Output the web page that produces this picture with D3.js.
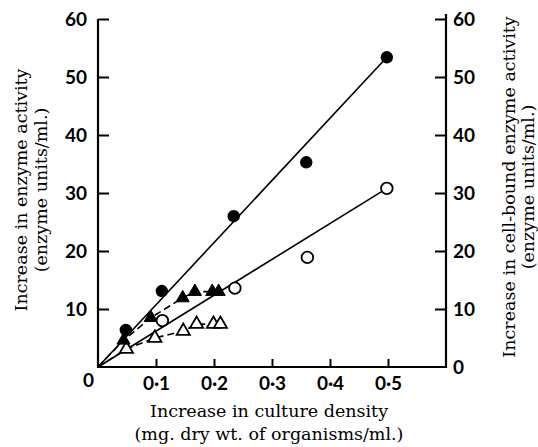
<!DOCTYPE html>
<html><head><meta charset="utf-8">
<script src="https://cdn.jsdelivr.net/npm/d3@7"></script>
<style>
html,body{margin:0;padding:0;background:#fff;}
svg{display:block;}
.tick text{font-family:Lato,"Open Sans",sans-serif;font-weight:700;font-size:19px;fill:#000;}
.title{font-family:"DejaVu Serif",serif;font-size:17.5px;fill:#000;}
</style></head>
<body>
<svg id="chart" width="538" height="447"></svg>
<script>
// data
const filledCircles = [[0.048, 6.4], [0.11, 13.1], [0.234, 26.0], [0.359, 35.3], [0.498, 53.4]];
const openCircles = [[0.111, 8.0], [0.236, 13.6], [0.361, 18.9], [0.498, 30.8]];
const filledTriangles = [[0.044, 4.6], [0.091, 8.5], [0.146, 11.9], [0.167, 13.0], [0.197, 13.0], [0.208, 13.0]];
const openTriangles = [[0.049, 3.1], [0.098, 5.0], [0.147, 6.2], [0.170, 7.4], [0.199, 7.4], [0.211, 7.4]];
const filledCircleLine = [[0, 0], [0.498, 53.4]];
const openCircleLine = [[0, 0], [0.498, 30.8]];
const xTicks = [0.1, 0.2, 0.3, 0.4, 0.5];
const yTicks = [10, 20, 30, 40, 50, 60];
const yTicksRight = [0, 10, 20, 30, 40, 50, 60];
const xTitle = ["Increase in culture density", "(mg. dry wt. of organisms/ml.)"];
const yTitle = ["Increase in enzyme activity", "(enzyme units/ml.)"];
const yTitleRight = ["Increase in cell-bound enzyme activity", "(enzyme units/ml.)"];

const svg = d3.select("#chart");
const x = d3.scaleLinear().domain([0, 0.6]).range([98, 446]);
const y = d3.scaleLinear().domain([0, 60]).range([367, 19]);
const fmt = d => d3.format(".1f")(d).replace(".", "\u00B7");

// axes
const gx = svg.append("g").attr("transform", `translate(0,${y(0)})`)
  .call(d3.axisBottom(x).tickValues(xTicks).tickSize(-8).tickSizeOuter(0).tickPadding(8).tickFormat(fmt));
const gl = svg.append("g").attr("transform", `translate(${x(0)},0)`)
  .call(d3.axisLeft(y).tickValues(yTicks).tickSize(-11).tickSizeOuter(0).tickPadding(11).tickFormat(d3.format("d")));
const gr = svg.append("g").attr("transform", `translate(${x(0.6)},0)`)
  .call(d3.axisRight(y).tickValues(yTicksRight).tickSize(-11).tickSizeOuter(0).tickPadding(7).tickFormat(d3.format("d")));
[gx, gl, gr].forEach(g => {
  g.selectAll(".domain").remove();
  g.selectAll(".tick line").attr("stroke", "#000").attr("stroke-width", 2);
});
gx.selectAll(".tick text").attr("dy", "0.8em");
gr.selectAll(".tick").filter(d => d === 0).select("line").remove();

// axis lines
svg.append("path").attr("fill", "none").attr("stroke", "#000").attr("stroke-width", 2.2)
  .attr("d", `M${x(0)},${y(60)}V${y(0)}H${x(0.6)}V${y(60) - 5}`);

// origin label
svg.append("text").attr("x", 88.5).attr("y", y(0) + 13).attr("dy", "0.35em")
  .attr("text-anchor", "middle")
  .style("font-family", "Lato,'Open Sans',sans-serif").style("font-weight", 700).style("font-size", "19px")
  .text("0");

// lines
const line = d3.line().x(d => x(d[0])).y(d => y(d[1]));
svg.append("path").attr("d", line(filledCircleLine)).attr("fill", "none").attr("stroke", "#000").attr("stroke-width", 1.6);
svg.append("path").attr("d", line(openCircleLine)).attr("fill", "none").attr("stroke", "#000").attr("stroke-width", 1.6);
svg.append("path").attr("d", line([[0, 0], ...filledTriangles])).attr("fill", "none").attr("stroke", "#000").attr("stroke-width", 1.6).attr("stroke-dasharray", "7,4");
svg.append("path").attr("d", line([[0, 0], ...openTriangles])).attr("fill", "none").attr("stroke", "#000").attr("stroke-width", 1.6).attr("stroke-dasharray", "7,4");

// markers
const tri = d3.symbol().type(d3.symbolTriangle).size(75);
svg.append("g").selectAll("path").data(openTriangles).join("path")
  .attr("d", tri).attr("transform", d => `translate(${x(d[0])},${y(d[1])})`)
  .attr("fill", "#fff").attr("stroke", "#000").attr("stroke-width", 1.8);
svg.append("g").selectAll("path").data(filledTriangles).join("path")
  .attr("d", tri).attr("transform", d => `translate(${x(d[0])},${y(d[1])})`)
  .attr("fill", "#000").attr("stroke", "#000").attr("stroke-width", 1);
svg.append("g").selectAll("circle").data(openCircles).join("circle")
  .attr("cx", d => x(d[0])).attr("cy", d => y(d[1])).attr("r", 5.8)
  .attr("fill", "#fff").attr("stroke", "#000").attr("stroke-width", 1.8);
svg.append("g").selectAll("circle").data(filledCircles).join("circle")
  .attr("cx", d => x(d[0])).attr("cy", d => y(d[1])).attr("r", 6.2)
  .attr("fill", "#000");

// titles
xTitle.forEach((t, i) => svg.append("text").attr("class", "title")
  .attr("x", 269).attr("y", 417 + i * 23).attr("text-anchor", "middle").text(t));
yTitle.forEach((t, i) => svg.append("text").attr("class", "title")
  .attr("transform", `translate(${27 + i * 20},190) rotate(-90)`).attr("text-anchor", "middle").text(t));
yTitleRight.forEach((t, i) => svg.append("text").attr("class", "title")
  .attr("transform", `translate(${515 + i * 18.5},187) rotate(-90)`).attr("text-anchor", "middle").text(t));
</script>
</body></html>
